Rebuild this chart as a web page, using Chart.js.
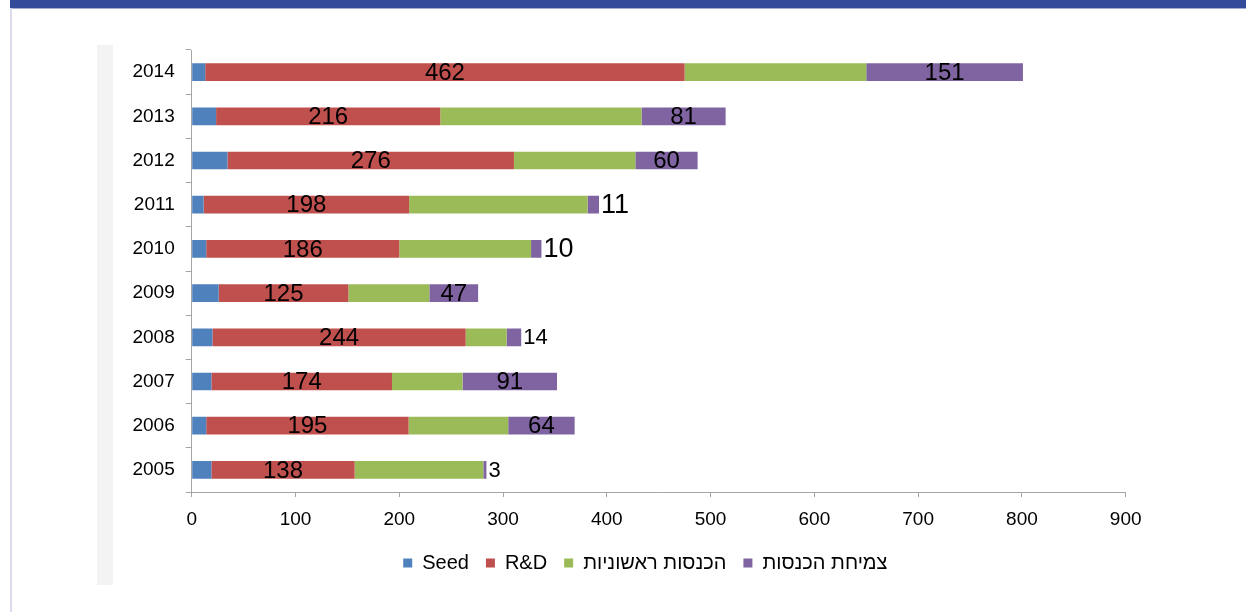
<!DOCTYPE html>
<html>
<head>
<meta charset="utf-8">
<script src="https://cdn.jsdelivr.net/npm/chart.js@4.4.1/dist/chart.umd.min.js"></script>
<style>
  html, body { margin: 0; padding: 0; background: #fff; width: 1246px; height: 612px; overflow: hidden; }
  #band { position: absolute; left: 10px; top: 0; width: 1236px; height: 8px; background: #334a9a; }
  #bandEdge { position: absolute; left: 10px; top: 8px; width: 1236px; height: 1px; background: #a3acd4; }
  #frame { position: absolute; left: 10px; top: 8px; width: 2px; height: 604px; background: #dcdaee; }
  #strip { position: absolute; left: 97px; top: 45px; width: 16px; height: 540px; background: #f3f3f3; }
  #chart { position: absolute; left: 0; top: 0; }
</style>
</head>
<body>
<div id="band"></div>
<div id="bandEdge"></div>
<div id="frame"></div>
<div id="strip"></div>
<canvas id="chart" width="1246" height="612"></canvas>
<script>
// Years, top to bottom
const years = ['2014', '2013', '2012', '2011', '2010', '2009', '2008', '2007', '2006', '2005'];

// Series values (same order as years)
const seed = [13, 23.5, 34.5, 11.5, 14, 26, 20, 19, 14, 19];
const rnd = [462, 216, 276, 198, 186, 125, 244, 174, 195, 138];
const initialRevenue = [175, 194, 117, 172, 127, 78, 39.5, 68, 96, 124];
const revenueGrowth = [151, 81, 60, 11, 10, 47, 14, 91, 64, 3];

const seriesNames = ['Seed', 'R&D', 'הכנסות ראשוניות', 'צמיחת הכנסות'];
const seriesColors = ['#4f81bd', '#c0504d', '#9bbb59', '#8064a2'];

// Value axis range
const xMin = 0;
const xMax = 900;
const xStep = 100;

const FONT = '"Liberation Sans", Arial, sans-serif';
const AXIS_GRAY = '#a6a6a6';

// Years whose outside growth label is set larger
const bigOutsideLabels = new Set(['2011', '2010']);

// Writes the R&D value inside its segment and the growth value inside or past its segment
const valueLabels = {
  id: 'valueLabels',
  afterDatasetsDraw(chart) {
    const ctx = chart.ctx;
    ctx.save();
    ctx.fillStyle = '#000';
    ctx.textBaseline = 'middle';

    chart.getDatasetMeta(1).data.forEach((bar, i) => {
      ctx.font = '24px ' + FONT;
      ctx.textAlign = 'center';
      ctx.fillText(String(rnd[i]), (bar.x + bar.base) / 2, bar.y + 1);
    });

    chart.getDatasetMeta(3).data.forEach((bar, i) => {
      const width = bar.x - bar.base;
      const text = String(revenueGrowth[i]);
      if (width > 30) {
        ctx.font = '24px ' + FONT;
        ctx.textAlign = 'center';
        ctx.fillText(text, (bar.x + bar.base) / 2, bar.y + 1);
      } else {
        ctx.font = (bigOutsideLabels.has(years[i]) ? '27px ' : '22px ') + FONT;
        ctx.textAlign = 'left';
        ctx.fillText(text, bar.x + 2, bar.y + 1);
      }
    });
    ctx.restore();
  }
};

// Moves the legend row sideways so it sits under the middle of the plot block
const legendShift = {
  id: 'legendShift',
  afterLayout(chart) {
    const dx = 32.5;
    if (chart.legend) {
      chart.legend.left += dx;
      chart.legend.right += dx;
    }
  }
};

const seriesData = [seed, rnd, initialRevenue, revenueGrowth];

new Chart(document.getElementById('chart'), {
  type: 'bar',
  data: {
    labels: years,
    datasets: seriesData.map((values, k) => ({
      label: seriesNames[k],
      data: values,
      backgroundColor: seriesColors[k],
      borderWidth: 0,
      barPercentage: 0.4,
      categoryPercentage: 1.0
    }))
  },
  options: {
    indexAxis: 'y',
    responsive: false,
    animation: false,
    devicePixelRatio: 1,
    layout: { padding: { left: 100, right: 120.3, top: 50, bottom: 29 } },
    plugins: {
      legend: {
        position: 'bottom',
        labels: {
          boxWidth: 9,
          boxHeight: 9,
          padding: 17,
          color: '#000',
          font: { size: 20, family: FONT }
        }
      },
      tooltip: { enabled: false }
    },
    scales: {
      x: {
        stacked: true,
        min: xMin,
        max: xMax,
        ticks: { stepSize: xStep, color: '#000', font: { size: 19, family: FONT }, padding: 11 },
        grid: { drawOnChartArea: false, tickLength: 5, color: AXIS_GRAY },
        border: { color: AXIS_GRAY },
        afterFit(scale) { scale.height = 44; }
      },
      y: {
        stacked: true,
        ticks: { color: '#000', font: { size: 19, family: FONT }, padding: 11 },
        grid: { drawOnChartArea: false, tickLength: 6, color: AXIS_GRAY, offset: true },
        border: { color: AXIS_GRAY },
        afterFit(scale) { scale.width = 91.7; }
      }
    }
  },
  plugins: [valueLabels, legendShift]
});
</script>
</body>
</html>
